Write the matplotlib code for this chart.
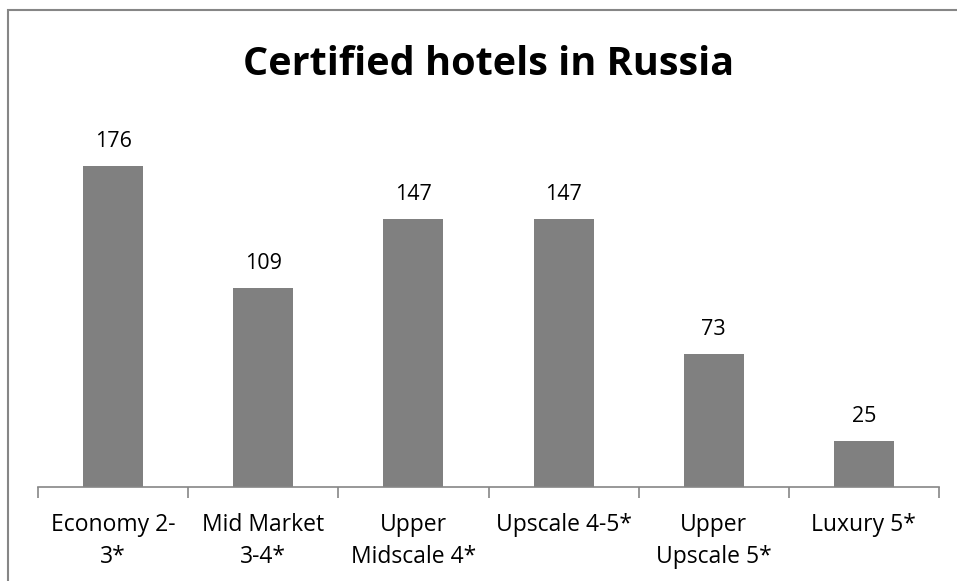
import matplotlib.pyplot as plt
import matplotlib.patches as patches
import numpy as np

categories = ['Economy 2-\n3*', 'Mid Market\n3-4*', 'Upper\nMidscale 4*',
              'Upscale 4-5*', 'Upper\nUpscale 5*', 'Luxury 5*']
hotels = [176, 109, 147, 147, 73, 25]

plt.rcParams['font.family'] = ['Open Sans', 'DejaVu Sans']

fig = plt.figure(figsize=(9.57, 5.81), dpi=100)
ax = fig.add_axes([0.0397, 0.1618, 0.9415, 0.6282])

x = np.arange(len(categories))
bars = ax.bar(x, hotels, width=0.4, color='#808080')
ax.bar_label(bars, padding=10, fontsize=15.5)

ax.set_xlim(-0.5, len(categories) - 0.5)
ax.set_ylim(0, 200)

# category labels in the middle, tick marks on the boundaries
ax.set_xticks(np.arange(len(categories) + 1) - 0.5)
ax.set_xticklabels([])
ax.set_xticks(x, minor=True)
ax.set_xticklabels(categories, minor=True, fontsize=16.5, linespacing=1.45)
ax.tick_params(axis='x', which='major', length=8, width=1.2, color='#868686')
ax.tick_params(axis='x', which='minor', length=0, pad=19)
ax.set_yticks([])

for s in ['top', 'right', 'left']:
    ax.spines[s].set_visible(False)
ax.spines['bottom'].set_color('#868686')
ax.spines['bottom'].set_linewidth(1.2)

fig.text(0.51, 1 - 75 / 581, 'Certified hotels in Russia', ha='center', va='baseline',
         fontsize=28.5, fontweight='bold')

# chart border (cropped on the right and bottom)
fig.patches.append(patches.Rectangle((8 / 957, -0.1), 1.2, 1.1 - 10 / 581,
                                     transform=fig.transFigure, fill=False,
                                     edgecolor='#868686', linewidth=1.5))

fig.savefig('out.png', dpi=100)
